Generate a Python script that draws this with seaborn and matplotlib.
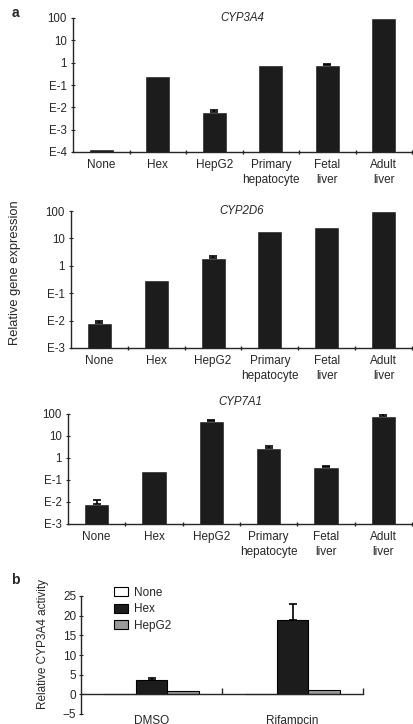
import numpy as np
import pandas as pd
import matplotlib
matplotlib.use("Agg")
import matplotlib.pyplot as plt
import seaborn as sns

# --- panel a: relative gene expression (log scale) ---
CELLS = ["None", "Hex", "HepG2", "Primary\nhepatocyte", "Fetal\nliver", "Adult\nliver"]
CYP3A4 = [1.3e-4, 0.26, 0.0062, 0.75, 0.75, 95]
CYP3A4_ERR = [0, 0, 0.0012, 0, 0.12, 0]
CYP2D6 = [0.0085, 0.30, 2.0, 18, 26, 100]
CYP2D6_ERR = [0.0015, 0, 0.35, 0, 0, 0]
CYP7A1 = [0.008, 0.27, 47, 2.8, 0.37, 80]
CYP7A1_ERR = [0.004, 0, 8, 0.7, 0.06, 20]

LOG_TICKS = [1e2, 1e1, 1, 1e-1, 1e-2, 1e-3, 1e-4]
LOG_LABELS = ["100", "10", "1", "E-1", "E-2", "E-3", "E-4"]

# --- panel b: CYP3A4 activity ---
TREATMENTS = ["DMSO", "Rifampcin"]
GROUPS = ["None", "Hex", "HepG2"]
ACTIVITY = {"None": [0.0, 0.0], "Hex": [3.6, 19.0], "HepG2": [0.9, 1.2]}
ACTIVITY_ERR = {"None": [0.0, 0.0], "Hex": [0.5, 4.0], "HepG2": [0.0, 0.0]}
GROUP_COLORS = ["#ffffff", "#1c1c1c", "#9a9a9a"]

BAR_COLOR = "#1c1c1c"

sns.set_style("ticks")
plt.rcParams["font.family"] = ["Liberation Sans", "DejaVu Sans"]
plt.rcParams["axes.linewidth"] = 1.0

W, H = 413, 724
fig = plt.figure(figsize=(W / 100, H / 100), dpi=100)


def px_axes(left, top, right, bottom):
    return fig.add_axes([left / W, 1 - bottom / H, (right - left) / W, (bottom - top) / H])


def log_panel(ax, vals, errs, name, ylow, title_y):
    sns.barplot(x=CELLS, y=vals, color=BAR_COLOR, width=0.44, saturation=1,
                errorbar=None, ax=ax)
    ax.set_yscale("log")
    xs = np.arange(len(vals))
    has = np.array(errs) > 0
    ax.errorbar(xs[has], np.array(vals)[has],
                yerr=[np.zeros(has.sum()), np.array(errs)[has]], fmt="none",
                ecolor="black", elinewidth=1.2, capsize=3, capthick=1.2)
    ticks = [t for t in LOG_TICKS if t >= ylow]
    ax.set_yticks(ticks, labels=LOG_LABELS[:len(ticks)])
    ax.yaxis.set_minor_locator(matplotlib.ticker.NullLocator())
    ax.set_ylim(ylow, 100)
    ax.set_xlim(-0.5, 5.5)
    ax.set_xticks(xs + 0.5, minor=True)
    ax.tick_params(axis="x", which="major", length=0, labelsize=8.5, pad=5)
    ax.tick_params(axis="x", which="minor", length=3, direction="inout", width=1)
    ax.tick_params(axis="y", length=3, direction="inout", labelsize=8.3, pad=3)
    for lab in ax.get_xticklabels():
        lab.set_linespacing(1.35)
        lab.set_verticalalignment("top")
    sns.despine(ax=ax)
    ax.set_xlabel("")
    ax.set_ylabel("")
    ax.text(0.5, title_y, name, transform=ax.transAxes, ha="center", va="center",
            fontsize=8.3, style="italic")


ax1 = px_axes(73, 18, 412, 152)
log_panel(ax1, CYP3A4, CYP3A4_ERR, "CYP3A4", 1e-4, 1.0)
ax2 = px_axes(71, 211, 412, 348)
log_panel(ax2, CYP2D6, CYP2D6_ERR, "CYP2D6", 1e-3, 1.0)
ax3 = px_axes(68, 414, 412, 524)
log_panel(ax3, CYP7A1, CYP7A1_ERR, "CYP7A1", 1e-3, 1.11)

fig.text(15 / W, 1 - 273 / H, "Relative gene expression", rotation=90,
         ha="center", va="center", fontsize=9.3)

# panel b
rows = []
for g in GROUPS:
    for t, v in zip(TREATMENTS, ACTIVITY[g]):
        rows.append({"treatment": t, "cell": g, "value": v})
df = pd.DataFrame(rows)

ax4 = px_axes(81, 596, 363, 714)
sns.barplot(data=df, x="treatment", y="value", hue="cell", hue_order=GROUPS,
            palette=GROUP_COLORS, saturation=1, width=0.67, edgecolor="black",
            linewidth=0.8, errorbar=None, ax=ax4)
for patch, (g, t) in zip(ax4.patches, [(g, t) for g in GROUPS for t in range(2)]):
    e = ACTIVITY_ERR[g][t]
    if e > 0:
        cx = patch.get_x() + patch.get_width() / 2
        top = patch.get_height()
        ax4.errorbar([cx], [top], yerr=[[0], [e]], fmt="none", ecolor="black",
                     elinewidth=1.2, capsize=3, capthick=1.2)
ax4.set_ylim(-5, 25)
ax4.set_xlim(-0.5, 1.5)
ax4.set_yticks([-5, 0, 5, 10, 15, 20, 25])
ax4.tick_params(axis="y", length=3, direction="inout", labelsize=8.5, pad=2)
ax4.spines["top"].set_visible(False)
ax4.spines["right"].set_visible(False)
ax4.spines["bottom"].set_position(("data", 0))
ax4.set_xticks([0.5, 1.5], labels=["", ""])
ax4.tick_params(axis="x", length=4, direction="in", width=1)
sec = ax4.secondary_xaxis("bottom")
sec.set_xticks([0, 1], labels=TREATMENTS)
sec.tick_params(length=0, labelsize=8.5, pad=1)
sec.spines["bottom"].set_visible(False)
ax4.set_xlabel("")
ax4.set_ylabel("Relative CYP3A4 activity", fontsize=8.5)
ax4.yaxis.set_label_coords(-0.115, 0.59)
ax4.legend(loc="upper left", bbox_to_anchor=(0.1, 1.12), frameon=False,
           fontsize=8.5, handlelength=1.2, handleheight=0.8, labelspacing=0.4,
           handletextpad=0.5, borderaxespad=0)

fig.text(15 / W, 1 - 13 / H, "a", fontsize=10, fontweight="bold", ha="center", va="center")
fig.text(15 / W, 1 - 580 / H, "b", fontsize=10, fontweight="bold", ha="center", va="center")

fig.savefig("out.png", dpi=100, facecolor="white")
